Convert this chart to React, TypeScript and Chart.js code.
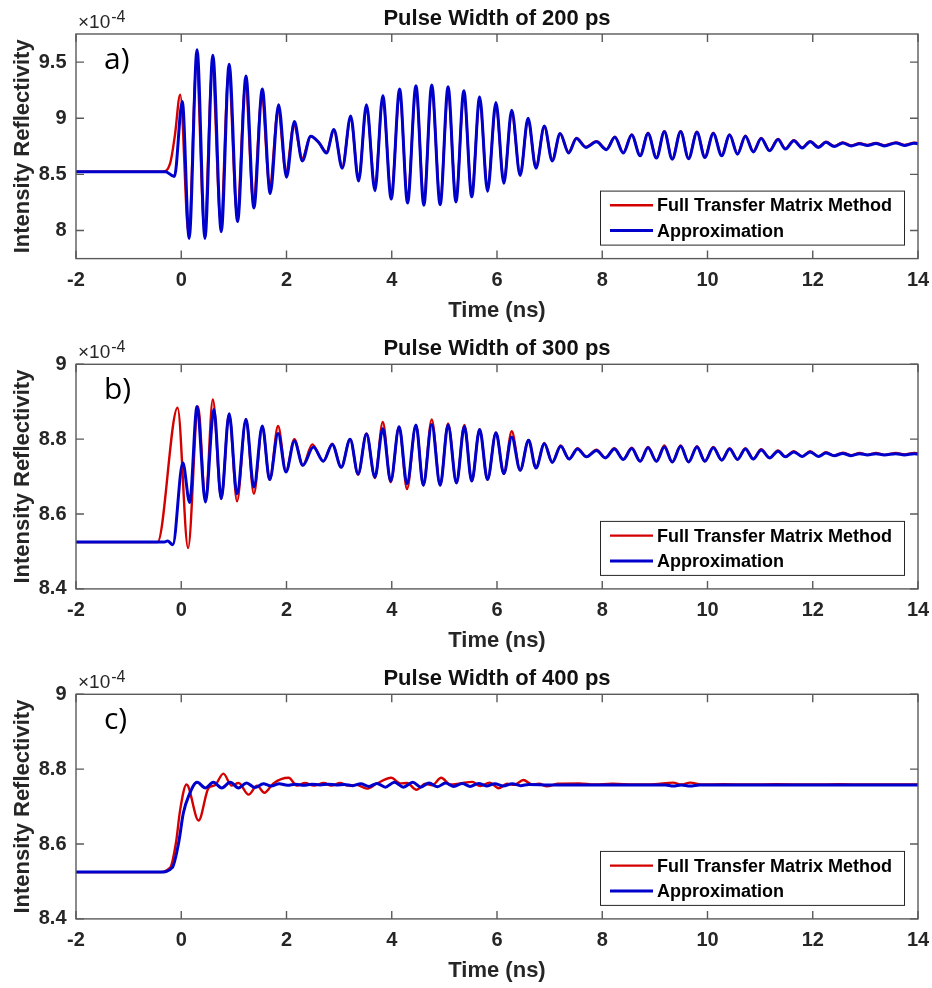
import React, { useEffect, useRef } from 'react';
import { Chart, registerables } from 'chart.js';

Chart.register(...registerables);

// ---------- labels / ticks ----------
const X_TICKS = [-2, 0, 2, 4, 6, 8, 10, 12, 14];
const Y_TICKS_A = [8, 8.5, 9, 9.5];
const Y_TICKS_BC = [8.4, 8.6, 8.8, 9];
const TITLES = ['Pulse Width of 200 ps', 'Pulse Width of 300 ps', 'Pulse Width of 400 ps'];
const PANEL_LABELS = ['a)', 'b)', 'c)'];
const SERIES_NAMES = ['Full Transfer Matrix Method', 'Approximation'];
const X_LABEL = 'Time (ns)';
const Y_LABEL = 'Intensity Reflectivity';
const EXPONENT = '-4';

// ---------- panel a (200 ps) ----------
const tA_red = [-2, -0.36, -0.21, -0.12, -0.02, 0.14, 0.29, 0.44, 0.59, 0.75, 0.90, 1.06, 1.22, 1.37, 1.53, 1.68, 1.84, 1.99, 2.14, 2.30, 2.46, 2.62, 2.76, 2.90, 3.06, 3.22, 3.37, 3.52, 3.68, 3.83, 3.99, 4.15, 4.30, 4.46, 4.61, 4.76, 4.92, 5.07, 5.22, 5.37, 5.52, 5.67, 5.82, 5.98, 6.13, 6.28, 6.44, 6.59, 6.74, 6.90, 7.05, 7.20, 7.36, 7.51, 7.69, 7.89, 8.08, 8.24, 8.40, 8.56, 8.72, 8.87, 9.03, 9.18, 9.33, 9.49, 9.64, 9.80, 9.95, 10.11, 10.27, 10.42, 10.57, 10.72, 10.87, 11.02, 11.18, 11.34, 11.48, 11.64, 11.80, 11.95, 12.11, 12.25, 12.41, 12.57, 12.73, 12.89, 13.04, 13.20, 13.36, 13.58, 13.74, 13.93, 14.0];
const rA_red = [8.524, 8.524, 8.60, 8.85, 9.21, 7.97, 9.47, 8.01, 9.44, 8.07, 9.41, 8.14, 9.30, 8.25, 9.19, 8.39, 9.07, 8.52, 8.94, 8.645, 8.84, 8.78, 8.70, 8.89, 8.57, 9.00, 8.46, 9.09, 8.41, 9.16, 8.33, 9.21, 8.30, 9.24, 8.29, 9.245, 8.28, 9.22, 8.30, 9.20, 8.34, 9.15, 8.39, 9.10, 8.45, 9.04, 8.51, 8.98, 8.57, 8.92, 8.63, 8.86, 8.70, 8.825, 8.745, 8.795, 8.725, 8.835, 8.695, 8.855, 8.67, 8.87, 8.65, 8.885, 8.64, 8.885, 8.645, 8.88, 8.655, 8.87, 8.67, 8.855, 8.685, 8.845, 8.705, 8.825, 8.715, 8.815, 8.73, 8.805, 8.74, 8.795, 8.745, 8.79, 8.753, 8.785, 8.758, 8.777, 8.762, 8.78, 8.758, 8.785, 8.762, 8.783, 8.777];
const tA_blue = [-2, -0.30, -0.13, 0.02, 0.15, 0.30, 0.45, 0.60, 0.76, 0.91, 1.07, 1.23, 1.38, 1.54, 1.69, 1.85, 2.00, 2.15, 2.30, 2.46, 2.62, 2.76, 2.90, 3.06, 3.22, 3.37, 3.52, 3.68, 3.83, 3.99, 4.15, 4.30, 4.46, 4.61, 4.76, 4.92, 5.07, 5.22, 5.37, 5.52, 5.67, 5.82, 5.98, 6.13, 6.28, 6.44, 6.59, 6.74, 6.90, 7.05, 7.20, 7.36, 7.51, 7.69, 7.89, 8.08, 8.24, 8.40, 8.56, 8.72, 8.87, 9.03, 9.18, 9.33, 9.49, 9.64, 9.80, 9.95, 10.11, 10.27, 10.42, 10.57, 10.72, 10.87, 11.02, 11.18, 11.34, 11.48, 11.64, 11.80, 11.95, 12.11, 12.25, 12.41, 12.57, 12.73, 12.89, 13.04, 13.20, 13.36, 13.58, 13.74, 13.93, 14.0];
const rA_blue = [8.524, 8.524, 8.48, 9.15, 7.93, 9.61, 7.93, 9.56, 7.99, 9.48, 8.08, 9.375, 8.20, 9.26, 8.33, 9.12, 8.475, 8.97, 8.62, 8.84, 8.78, 8.69, 8.90, 8.555, 9.02, 8.44, 9.12, 8.355, 9.20, 8.28, 9.26, 8.245, 9.29, 8.225, 9.295, 8.23, 9.28, 8.255, 9.245, 8.30, 9.19, 8.35, 9.14, 8.42, 9.07, 8.49, 9.00, 8.555, 8.93, 8.62, 8.865, 8.69, 8.82, 8.74, 8.79, 8.72, 8.83, 8.69, 8.85, 8.665, 8.865, 8.645, 8.88, 8.635, 8.88, 8.64, 8.875, 8.65, 8.865, 8.665, 8.85, 8.68, 8.84, 8.70, 8.82, 8.71, 8.81, 8.725, 8.80, 8.735, 8.79, 8.74, 8.785, 8.748, 8.78, 8.753, 8.772, 8.757, 8.775, 8.753, 8.78, 8.757, 8.778, 8.772];

// ---------- panel b (300 ps) ----------
const tB_red = [-2, -0.45, -0.07, 0.13, 0.32, 0.46, 0.60, 0.76, 0.91, 1.06, 1.23, 1.38, 1.54, 1.68, 1.84, 1.99, 2.15, 2.31, 2.49, 2.70, 2.87, 3.04, 3.21, 3.36, 3.52, 3.68, 3.83, 3.98, 4.14, 4.29, 4.46, 4.60, 4.76, 4.92, 5.07, 5.23, 5.38, 5.52, 5.67, 5.82, 5.98, 6.13, 6.28, 6.44, 6.60, 6.74, 6.90, 7.05, 7.21, 7.37, 7.53, 7.70, 7.89, 8.06, 8.23, 8.40, 8.56, 8.72, 8.87, 9.03, 9.18, 9.33, 9.49, 9.64, 9.80, 9.95, 10.11, 10.27, 10.42, 10.57, 10.72, 10.87, 11.02, 11.18, 11.34, 11.48, 11.64, 11.80, 11.95, 12.11, 12.25, 12.41, 12.57, 12.73, 12.89, 13.04, 13.20, 13.36, 13.58, 13.74, 13.93, 14.0];
const rB_red = [8.525, 8.525, 8.884, 8.509, 8.887, 8.634, 8.906, 8.641, 8.868, 8.634, 8.853, 8.654, 8.833, 8.692, 8.835, 8.714, 8.80, 8.73, 8.786, 8.741, 8.788, 8.725, 8.80, 8.705, 8.815, 8.696, 8.846, 8.685, 8.833, 8.667, 8.837, 8.677, 8.853, 8.677, 8.842, 8.683, 8.838, 8.688, 8.826, 8.692, 8.817, 8.708, 8.821, 8.717, 8.797, 8.723, 8.790, 8.738, 8.783, 8.747, 8.776, 8.753, 8.772, 8.750, 8.776, 8.746, 8.777, 8.741, 8.779, 8.741, 8.783, 8.739, 8.783, 8.739, 8.781, 8.741, 8.779, 8.744, 8.776, 8.746, 8.776, 8.747, 8.773, 8.750, 8.770, 8.753, 8.768, 8.754, 8.768, 8.754, 8.765, 8.756, 8.764, 8.757, 8.763, 8.758, 8.763, 8.758, 8.763, 8.759, 8.763, 8.762];
const tB_blue = [-2, -0.32, -0.26, -0.16, 0.03, 0.16, 0.30, 0.46, 0.62, 0.76, 0.91, 1.06, 1.23, 1.38, 1.54, 1.68, 1.84, 1.99, 2.15, 2.31, 2.51, 2.70, 2.87, 3.04, 3.21, 3.36, 3.52, 3.68, 3.83, 3.98, 4.14, 4.29, 4.46, 4.60, 4.76, 4.92, 5.07, 5.23, 5.38, 5.52, 5.67, 5.82, 5.98, 6.13, 6.28, 6.44, 6.60, 6.74, 6.90, 7.05, 7.21, 7.37, 7.53, 7.70, 7.89, 8.06, 8.23, 8.40, 8.56, 8.72, 8.87, 9.03, 9.18, 9.33, 9.49, 9.64, 9.80, 9.95, 10.11, 10.27, 10.42, 10.57, 10.72, 10.87, 11.02, 11.18, 11.34, 11.48, 11.64, 11.80, 11.95, 12.11, 12.25, 12.41, 12.57, 12.73, 12.89, 13.04, 13.20, 13.36, 13.58, 13.74, 13.93, 14.0];
const rB_blue = [8.525, 8.525, 8.528, 8.518, 8.737, 8.631, 8.887, 8.632, 8.879, 8.641, 8.868, 8.654, 8.853, 8.672, 8.835, 8.692, 8.815, 8.712, 8.795, 8.73, 8.779, 8.741, 8.786, 8.725, 8.80, 8.707, 8.814, 8.699, 8.828, 8.688, 8.833, 8.681, 8.838, 8.677, 8.839, 8.677, 8.838, 8.683, 8.834, 8.688, 8.826, 8.692, 8.817, 8.708, 8.806, 8.717, 8.797, 8.723, 8.788, 8.738, 8.781, 8.747, 8.774, 8.753, 8.770, 8.750, 8.774, 8.746, 8.775, 8.741, 8.777, 8.741, 8.779, 8.739, 8.781, 8.739, 8.779, 8.741, 8.777, 8.744, 8.774, 8.746, 8.774, 8.747, 8.771, 8.750, 8.768, 8.753, 8.766, 8.754, 8.766, 8.754, 8.763, 8.756, 8.762, 8.756, 8.761, 8.758, 8.761, 8.758, 8.761, 8.758, 8.761, 8.760];

// ---------- panel c (400 ps) ----------
const tC_red = [-2, -0.45, -0.21, -0.10, -0.02, 0.10, 0.33, 0.52, 0.64, 0.80, 0.96, 1.09, 1.28, 1.44, 1.58, 1.75, 2.04, 2.20, 2.35, 2.52, 2.71, 2.85, 3.02, 3.17, 3.33, 3.53, 3.72, 3.99, 4.16, 4.29, 4.47, 4.64, 4.77, 4.94, 5.11, 5.30, 5.53, 5.68, 5.86, 6.03, 6.19, 6.33, 6.50, 6.67, 6.80, 6.95, 7.15, 7.56, 7.85, 8.20, 8.60, 9.00, 9.35, 9.50, 9.67, 9.90, 10.30, 10.80, 11.30, 12.00, 12.50, 13.00, 14.0];
const rC_red = [8.525, 8.525, 8.537, 8.604, 8.692, 8.759, 8.663, 8.750, 8.757, 8.788, 8.756, 8.763, 8.732, 8.756, 8.737, 8.762, 8.777, 8.756, 8.763, 8.756, 8.763, 8.756, 8.763, 8.756, 8.758, 8.748, 8.762, 8.777, 8.762, 8.763, 8.745, 8.761, 8.757, 8.777, 8.759, 8.762, 8.766, 8.755, 8.764, 8.749, 8.761, 8.758, 8.771, 8.759, 8.761, 8.754, 8.761, 8.762, 8.759, 8.761, 8.759, 8.760, 8.764, 8.759, 8.764, 8.759, 8.760, 8.759, 8.760, 8.759, 8.760, 8.759, 8.759];
const tC_blue = [-2, -0.40, -0.17, -0.05, 0.04, 0.14, 0.30, 0.46, 0.61, 0.77, 0.93, 1.09, 1.24, 1.40, 1.56, 1.71, 1.86, 2.02, 2.17, 2.33, 2.48, 2.64, 2.79, 2.95, 3.10, 3.26, 3.41, 3.57, 3.72, 3.88, 4.05, 4.22, 4.40, 4.55, 4.71, 4.87, 5.02, 5.18, 5.34, 5.49, 5.65, 5.80, 5.96, 6.12, 6.29, 6.45, 6.60, 7.00, 8.00, 9.20, 9.35, 9.50, 9.67, 9.85, 11.00, 14.0];
const rC_blue = [8.525, 8.525, 8.537, 8.603, 8.683, 8.728, 8.765, 8.750, 8.765, 8.750, 8.765, 8.750, 8.763, 8.751, 8.761, 8.755, 8.761, 8.757, 8.760, 8.757, 8.760, 8.758, 8.760, 8.758, 8.759, 8.756, 8.761, 8.754, 8.762, 8.752, 8.765, 8.752, 8.765, 8.752, 8.763, 8.753, 8.763, 8.754, 8.762, 8.754, 8.762, 8.755, 8.761, 8.755, 8.761, 8.756, 8.759, 8.758, 8.758, 8.758, 8.755, 8.758, 8.755, 8.758, 8.758, 8.758];

// ---------- styling ----------
const RED = '#d40000';
const BLUE = '#0000cc';
const AXIS_COLOR = '#5a5a5a';
const TEXT_COLOR = '#262626';
const FONT = '"Liberation Sans", Arial, Helvetica, sans-serif';

const zip = (t: number[], v: number[]) => t.map((x, i) => ({ x, y: v[i] }));

type Panel = {
  top: number;
  height: number;
  padTop: number;
  yMin: number;
  yMax: number;
  yTicks: number[];
  red: { x: number; y: number }[];
  blue: { x: number; y: number }[];
  title: string;
  label: string;
};

const PLOT_H = 224.6;

const PANELS: Panel[] = [
  { top: 0, height: 330, padTop: 34, yMin: 7.75, yMax: 9.75, yTicks: Y_TICKS_A, red: zip(tA_red, rA_red), blue: zip(tA_blue, rA_blue), title: TITLES[0], label: PANEL_LABELS[0] },
  { top: 330, height: 330, padTop: 34.3, yMin: 8.4, yMax: 9, yTicks: Y_TICKS_BC, red: zip(tB_red, rB_red), blue: zip(tB_blue, rB_blue), title: TITLES[1], label: PANEL_LABELS[1] },
  { top: 660, height: 328, padTop: 34.3, yMin: 8.4, yMax: 9, yTicks: Y_TICKS_BC, red: zip(tC_red, rC_red), blue: zip(tC_blue, rC_blue), title: TITLES[2], label: PANEL_LABELS[2] },
];

const decorPlugin = {
  id: 'decor',
  afterDraw(chart: any, _args: any, opts: any) {
    const { ctx, chartArea } = chart;
    const { left, right, top, bottom } = chartArea;
    const xs = chart.scales.x;
    const ys = chart.scales.y;
    ctx.save();

    // inward ticks on all four sides + box
    const TL = 8;
    ctx.strokeStyle = AXIS_COLOR;
    ctx.lineWidth = 1.4;
    ctx.beginPath();
    xs.ticks.forEach((t: any) => {
      const px = xs.getPixelForValue(t.value);
      ctx.moveTo(px, bottom);
      ctx.lineTo(px, bottom - TL);
      ctx.moveTo(px, top);
      ctx.lineTo(px, top + TL);
    });
    ys.ticks.forEach((t: any) => {
      const py = ys.getPixelForValue(t.value);
      ctx.moveTo(left, py);
      ctx.lineTo(left + TL, py);
      ctx.moveTo(right, py);
      ctx.lineTo(right - TL, py);
    });
    ctx.stroke();
    ctx.strokeRect(left, top, right - left, bottom - top);

    // legend box
    const lw = 304;
    const lh = 54;
    const lx = right - 14 - lw;
    const ly = bottom - 14 - lh;
    ctx.fillStyle = '#ffffff';
    ctx.fillRect(lx, ly, lw, lh);
    ctx.strokeStyle = TEXT_COLOR;
    ctx.lineWidth = 1;
    ctx.strokeRect(lx + 0.5, ly + 0.5, lw, lh);
    ctx.font = `bold 18px ${FONT}`;
    ctx.textAlign = 'left';
    ctx.textBaseline = 'middle';
    chart.data.datasets.forEach((ds: any, i: number) => {
      const yy = ly + 14.7 + i * 25.3;
      ctx.strokeStyle = ds.borderColor;
      ctx.lineWidth = ds.borderWidth;
      ctx.beginPath();
      ctx.moveTo(lx + 10, yy);
      ctx.lineTo(lx + 53, yy);
      ctx.stroke();
      ctx.fillStyle = '#000000';
      ctx.fillText(ds.label, lx + 57, yy + 1);
    });

    // title
    ctx.fillStyle = '#111111';
    ctx.font = `bold 22px ${FONT}`;
    ctx.textAlign = 'center';
    ctx.textBaseline = 'alphabetic';
    ctx.fillText(opts.title, (left + right) / 2, top - 9);

    // exponent marker
    ctx.fillStyle = TEXT_COLOR;
    ctx.textAlign = 'left';
    ctx.font = `19px ${FONT}`;
    ctx.fillText('\u00d710', left + 2, top - 6);
    const w = ctx.measureText('\u00d710').width;
    ctx.font = `16px ${FONT}`;
    ctx.fillText(EXPONENT, left + 3 + w, top - 12.5);

    // panel label
    ctx.fillStyle = '#000000';
    ctx.font = '30px "Open Sans", "Noto Sans", sans-serif';
    ctx.fillText(opts.label, left + 28, top + 35);

    ctx.restore();
  },
};

function buildConfig(p: Panel): any {
  const xAxisH = p.height - p.padTop - PLOT_H;
  const titleCenterFromBottom = xAxisH - 52.5;
  return {
    type: 'line',
    data: {
      datasets: [
        {
          label: SERIES_NAMES[0],
          data: p.red,
          borderColor: RED,
          borderWidth: 2.4,
          pointRadius: 0,
          cubicInterpolationMode: 'monotone',
          fill: false,
          order: 1,
        },
        {
          label: SERIES_NAMES[1],
          data: p.blue,
          borderColor: BLUE,
          borderWidth: 3,
          pointRadius: 0,
          cubicInterpolationMode: 'monotone',
          fill: false,
          order: 0,
        },
      ],
    },
    options: {
      animation: false,
      responsive: false,
      maintainAspectRatio: false,
      events: [],
      layout: { padding: { top: p.padTop, right: 14, left: 0, bottom: 0 } },
      plugins: {
        legend: { display: false },
        tooltip: { enabled: false },
        title: { display: false },
        decor: { title: p.title, label: p.label },
      },
      scales: {
        x: {
          type: 'linear',
          min: -2,
          max: 14,
          grid: { display: false, drawTicks: false },
          border: { display: false },
          afterBuildTicks: (s: any) => {
            s.ticks = X_TICKS.map((v) => ({ value: v }));
          },
          afterFit: (s: any) => {
            s.height = xAxisH;
            s.paddingLeft = 0;
            s.paddingRight = 0;
          },
          ticks: {
            autoSkip: false,
            maxRotation: 0,
            padding: 10,
            color: TEXT_COLOR,
            font: { family: FONT, size: 20, weight: 'bold' },
            callback: (v: any) => String(v),
          },
          title: {
            display: true,
            text: X_LABEL,
            color: TEXT_COLOR,
            font: { family: FONT, size: 22, weight: 'bold' },
            padding: { top: 0, bottom: titleCenterFromBottom - 13.2 },
          },
        },
        y: {
          type: 'linear',
          min: p.yMin,
          max: p.yMax,
          grid: { display: false, drawTicks: false },
          border: { display: false },
          afterBuildTicks: (s: any) => {
            s.ticks = p.yTicks.map((v) => ({ value: v }));
          },
          afterFit: (s: any) => {
            s.width = 76;
            s.paddingTop = 0;
            s.paddingBottom = 0;
          },
          ticks: {
            padding: 9.5,
            color: TEXT_COLOR,
            font: { family: FONT, size: 20, weight: 'bold' },
            callback: (v: any) => String(Number(Number(v).toFixed(2))),
          },
          title: {
            display: true,
            text: Y_LABEL,
            color: TEXT_COLOR,
            font: { family: FONT, size: 22, weight: 'bold' },
            padding: { top: 10, bottom: 0 },
          },
        },
      },
    },
    plugins: [decorPlugin],
  };
}

export default function App() {
  const r0 = useRef<HTMLCanvasElement>(null);
  const r1 = useRef<HTMLCanvasElement>(null);
  const r2 = useRef<HTMLCanvasElement>(null);
  const refs = [r0, r1, r2];

  useEffect(() => {
    const charts = PANELS.map((p, i) => new Chart(refs[i].current as HTMLCanvasElement, buildConfig(p)));
    return () => charts.forEach((c) => c.destroy());
  }, []);

  return (
    <div style={{ position: 'absolute', left: 0, top: 0, width: 932, height: 988, background: '#ffffff' }}>
      {PANELS.map((p, i) => (
        <canvas
          key={i}
          ref={refs[i]}
          width={932}
          height={p.height}
          style={{ position: 'absolute', left: 0, top: p.top, width: 932, height: p.height }}
        />
      ))}
    </div>
  );
}
